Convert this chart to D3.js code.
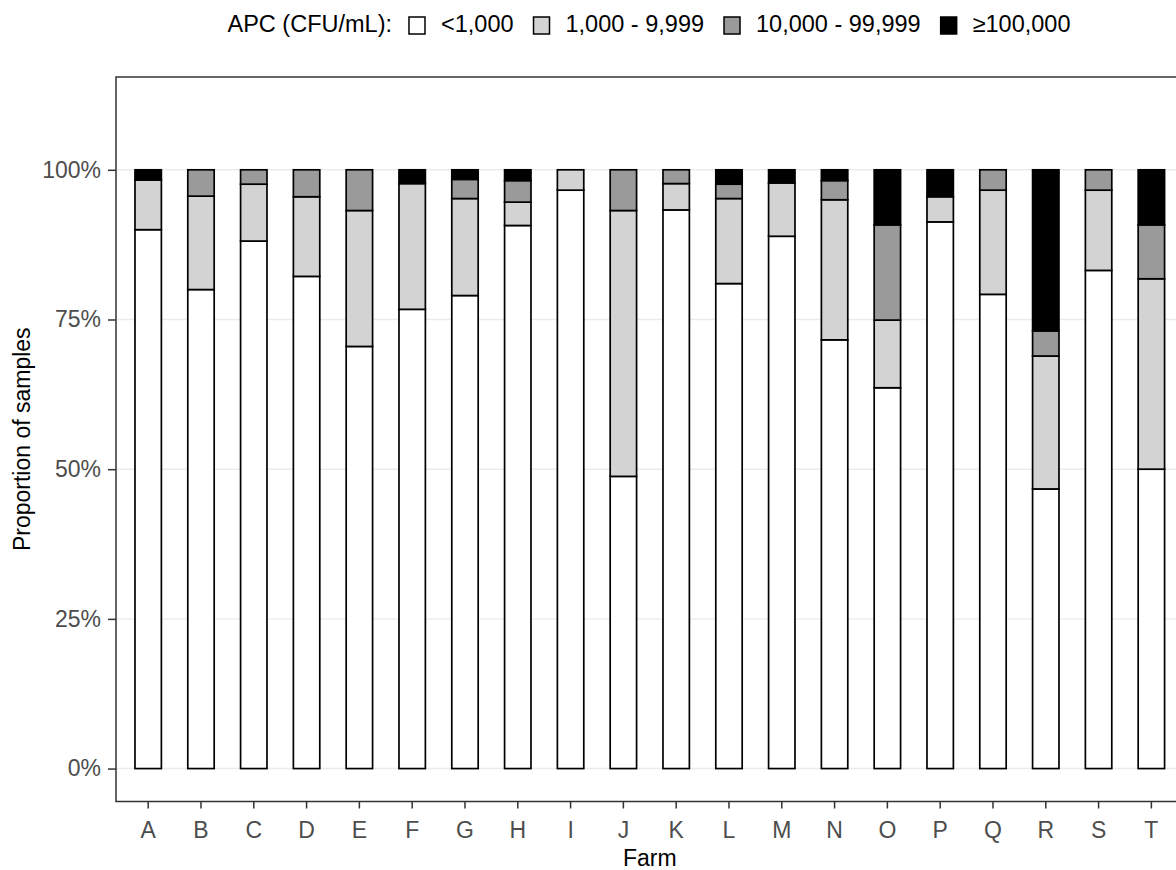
<!DOCTYPE html>
<html>
<head>
<meta charset="utf-8">
<script src="https://cdn.jsdelivr.net/npm/d3@7"></script>
<style>
  body { margin: 0; background: #fff; }
  svg text { font-family: "Liberation Sans", Arial, sans-serif; }
</style>
</head>
<body>
<div id="chart"></div>
<script>
// data (percent of samples per farm)
var farms = ["A","B","C","D","E","F","G","H","I","J","K","L","M","N","O","P","Q","R","S","T"];
var under1k   = [90.0, 80.0, 88.1, 82.2, 70.5, 76.7, 79.0, 90.7, 96.6, 48.8, 93.3, 81.0, 88.9, 71.6, 63.6, 91.3, 79.2, 46.7, 83.2, 50.0];
var k1to10    = [ 8.3, 15.6,  9.5, 13.3, 22.7, 21.0, 16.2,  3.9,  3.4, 44.4,  4.4, 14.2,  8.9, 23.4, 11.3,  4.2, 17.4, 22.2, 13.4, 31.8];
var k10to100  = [ 0.0,  4.4,  2.4,  4.5,  6.8,  0.0,  3.2,  3.6,  0.0,  6.8,  2.3,  2.4,  0.0,  3.2, 15.9,  0.0,  3.4,  4.2,  3.4,  9.0];
var over100k  = [ 1.7,  0.0,  0.0,  0.0,  0.0,  2.3,  1.6,  1.8,  0.0,  0.0,  0.0,  2.4,  2.2,  1.8,  9.2,  4.5,  0.0, 26.9,  0.0,  9.2];
var levels = ["<1,000", "1,000 - 9,999", "10,000 - 99,999", "\u2265100,000"];
var yTicks = [0, 25, 50, 75, 100];

var keys = ["a", "b", "c", "d"];
var fills = {a: "#FFFFFF", b: "#D3D3D3", c: "#9A9A9A", d: "#000000"};

var rows = farms.map(function(f, i) {
  return {farm: f, a: under1k[i], b: k1to10[i], c: k10to100[i], d: over100k[i]};
});

var width = 1176, height = 870,
    margin = {top: 77, left: 116, bottom: 801.5},
    panelW = 20.2 * 52.8;

var svg = d3.select("#chart").append("svg")
  .attr("width", width)
  .attr("height", height);

var x = d3.scaleBand().domain(farms)
  .range([margin.left + 0.5, margin.left + 0.5 + panelW])
  .paddingInner(0).paddingOuter(0.1);
var y = d3.scaleLinear().domain([-5.5, 115.5]).range([margin.bottom, margin.top]);

// grid
svg.append("g").selectAll("line")
  .data(yTicks).enter().append("line")
  .attr("x1", margin.left).attr("x2", margin.left + panelW)
  .attr("y1", d => y(d)).attr("y2", d => y(d))
  .attr("stroke", "#EBEBEB").attr("stroke-width", 1.4);

var stack = d3.stack().keys(keys)(rows);
var barW = x.bandwidth() * 0.5;

svg.append("g").selectAll("g")
  .data(stack).enter().append("g")
  .attr("fill", d => fills[d.key])
  .selectAll("rect")
  .data(d => d.filter(s => s[1] - s[0] > 0))
  .enter().append("rect")
  .attr("x", d => x(d.data.farm) + (x.bandwidth() - barW) / 2)
  .attr("y", d => y(d[1]))
  .attr("width", barW)
  .attr("height", d => y(d[0]) - y(d[1]))
  .attr("stroke", "#000").attr("stroke-width", 1.7);

// panel border
svg.append("rect")
  .attr("x", margin.left).attr("y", margin.top)
  .attr("width", panelW + 10).attr("height", margin.bottom - margin.top)
  .attr("fill", "none").attr("stroke", "#333").attr("stroke-width", 1.5);

// axes
var yAxis = svg.append("g")
  .attr("transform", `translate(${margin.left},0)`)
  .call(d3.axisLeft(y).tickValues(yTicks).tickFormat(d => d + "%").tickSize(8).tickPadding(7));
var xAxis = svg.append("g")
  .attr("transform", `translate(0,${margin.bottom})`)
  .call(d3.axisBottom(x).tickSize(7).tickPadding(13));
[xAxis, yAxis].forEach(function(a) {
  a.select(".domain").remove();
  a.selectAll(".tick line").attr("stroke", "#333").attr("stroke-width", 1.5);
  a.selectAll(".tick text").attr("fill", "#4D4D4D").style("font-size", "23px")
    .style("font-family", "'Liberation Sans', Arial, sans-serif");
});

// axis titles
svg.append("text")
  .attr("x", x("J") + x.bandwidth()).attr("y", 866)
  .attr("text-anchor", "middle").style("font-size", "23px").attr("fill", "#000")
  .text("Farm");
svg.append("text")
  .attr("transform", `translate(30,${(margin.top + margin.bottom) / 2}) rotate(-90)`)
  .attr("text-anchor", "middle").style("font-size", "23px").attr("fill", "#000")
  .text("Proportion of samples");

// legend
var legend = svg.append("g");
var lx = 0;
var title = legend.append("text").attr("x", 0).attr("y", 32)
  .style("font-size", "23.5px").text("APC (CFU/mL):");
lx = title.node().getComputedTextLength() + 17;
levels.forEach(function(lab, i) {
  legend.append("rect")
    .attr("x", lx).attr("y", 17).attr("width", 16).attr("height", 17)
    .attr("fill", fills[keys[i]]).attr("stroke", "#000").attr("stroke-width", 1.5);
  lx += 16 + 16;
  var t = legend.append("text").attr("x", lx).attr("y", 32)
    .style("font-size", "23.5px").text(lab);
  lx += t.node().getComputedTextLength() + (i < levels.length - 1 ? 20 : 0);
});
legend.attr("transform", `translate(${649 - lx / 2},0)`);
</script>
</body>
</html>
